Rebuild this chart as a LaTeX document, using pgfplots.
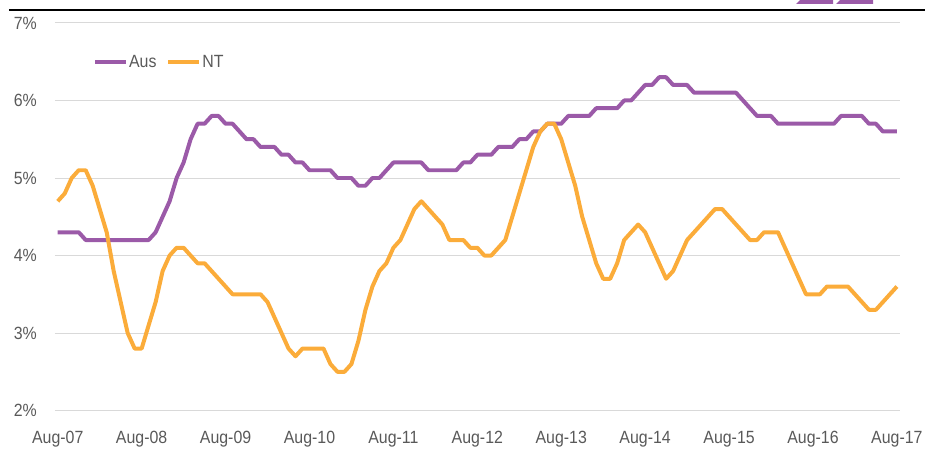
\documentclass[border=0pt]{standalone}
\usepackage{pgfplots}
\usepackage{pgfplotstable}
\pgfplotsset{compat=1.18}
\usepackage{fontspec}
\setmainfont{Liberation Sans}[FakeStretch=0.9]

\definecolor{auscol}{RGB}{155,90,168}
\definecolor{ntcol}{RGB}{251,172,58}
\definecolor{txtgray}{RGB}{89,89,89}
\definecolor{gridgray}{RGB}{217,217,217}

% month index (0 = Aug-07), Aus, NT
\pgfplotstableread{
m aus nt
0 4.3 4.7
1 4.3 4.8
2 4.3 5.0
3 4.3 5.1
4 4.2 5.1
5 4.2 4.9
6 4.2 4.6
7 4.2 4.3
8 4.2 3.8
9 4.2 3.4
10 4.2 3.0
11 4.2 2.8
12 4.2 2.8
13 4.2 3.1
14 4.3 3.4
15 4.5 3.8
16 4.7 4.0
17 5.0 4.1
18 5.2 4.1
19 5.5 4.0
20 5.7 3.9
21 5.7 3.9
22 5.8 3.8
23 5.8 3.7
24 5.7 3.6
25 5.7 3.5
26 5.6 3.5
27 5.5 3.5
28 5.5 3.5
29 5.4 3.5
30 5.4 3.4
31 5.4 3.2
32 5.3 3.0
33 5.3 2.8
34 5.2 2.7
35 5.2 2.8
36 5.1 2.8
37 5.1 2.8
38 5.1 2.8
39 5.1 2.6
40 5.0 2.5
41 5.0 2.5
42 5.0 2.6
43 4.9 2.9
44 4.9 3.3
45 5.0 3.6
46 5.0 3.8
47 5.1 3.9
48 5.2 4.1
49 5.2 4.2
50 5.2 4.4
51 5.2 4.6
52 5.2 4.7
53 5.1 4.6
54 5.1 4.5
55 5.1 4.4
56 5.1 4.2
57 5.1 4.2
58 5.2 4.2
59 5.2 4.1
60 5.3 4.1
61 5.3 4.0
62 5.3 4.0
63 5.4 4.1
64 5.4 4.2
65 5.4 4.5
66 5.5 4.8
67 5.5 5.1
68 5.6 5.4
69 5.6 5.6
70 5.7 5.7
71 5.7 5.7
72 5.7 5.5
73 5.8 5.2
74 5.8 4.9
75 5.8 4.5
76 5.8 4.2
77 5.9 3.9
78 5.9 3.7
79 5.9 3.7
80 5.9 3.9
81 6.0 4.2
82 6.0 4.3
83 6.1 4.4
84 6.2 4.3
85 6.2 4.1
86 6.3 3.9
87 6.3 3.7
88 6.2 3.8
89 6.2 4.0
90 6.2 4.2
91 6.1 4.3
92 6.1 4.4
93 6.1 4.5
94 6.1 4.6
95 6.1 4.6
96 6.1 4.5
97 6.1 4.4
98 6.0 4.3
99 5.9 4.2
100 5.8 4.2
101 5.8 4.3
102 5.8 4.3
103 5.7 4.3
104 5.7 4.1
105 5.7 3.9
106 5.7 3.7
107 5.7 3.5
108 5.7 3.5
109 5.7 3.5
110 5.7 3.6
111 5.7 3.6
112 5.8 3.6
113 5.8 3.6
114 5.8 3.5
115 5.8 3.4
116 5.7 3.3
117 5.7 3.3
118 5.6 3.4
119 5.6 3.5
120 5.6 3.6
}\unemp

\begin{document}
\begin{tikzpicture}[x=1bp,y=1bp]
    % page frame, top rule and the cut-off logo
    \path (0,0) rectangle (926,450);
    \draw[line width=2bp] (9,440) -- (926,440);
    \fill[auscol] (797,446) -- (834,446) -- (834,450) -- (801,450) -- cycle;
    \fill[auscol] (837,446) -- (874,446) -- (874,450) -- (841,450) -- cycle;

    \begin{axis}[
        at={(55bp,39bp)}, anchor=south west,
        scale only axis,
        width=846bp, height=388bp,
        xmin=-0.4, xmax=120.45,
        ymin=2, ymax=7,
        xtick={0,12,...,120},
        xticklabels={Aug-07,Aug-08,Aug-09,Aug-10,Aug-11,Aug-12,Aug-13,Aug-14,Aug-15,Aug-16,Aug-17},
        ytick={2,3,4,5,6,7},
        yticklabels={2\%,3\%,4\%,5\%,6\%,7\%},
        axis line style={draw=none},
        tick style={draw=none},
        ymajorgrids,
        major grid style={draw=gridgray, line width=1bp},
        tick label style={font=\fontsize{17.7bp}{20bp}\selectfont, text=txtgray, inner sep=0pt},
        xticklabel style={anchor=north, yshift=-20.5bp},
        yticklabel style={anchor=east, xshift=-18bp},
        legend style={
            at={(0.0449,0.8995)}, anchor=west,
            draw=none, fill=none, inner sep=0pt,
            font=\fontsize{17.7bp}{20bp}\selectfont, text=txtgray,
            legend columns=-1,
            nodes={inner sep=1bp},
            /tikz/every even column/.append style={column sep=9bp}
        },
        legend image code/.code={\draw[#1] (0bp,0bp) -- (31bp,0bp);},
    ]
    \addplot[auscol, line width=4bp, line join=round] table[x=m, y=aus] {\unemp};
    \addplot[ntcol, line width=4bp, line join=round] table[x=m, y=nt] {\unemp};
    \legend{Aus,NT}
    \end{axis}
\end{tikzpicture}
\end{document}
